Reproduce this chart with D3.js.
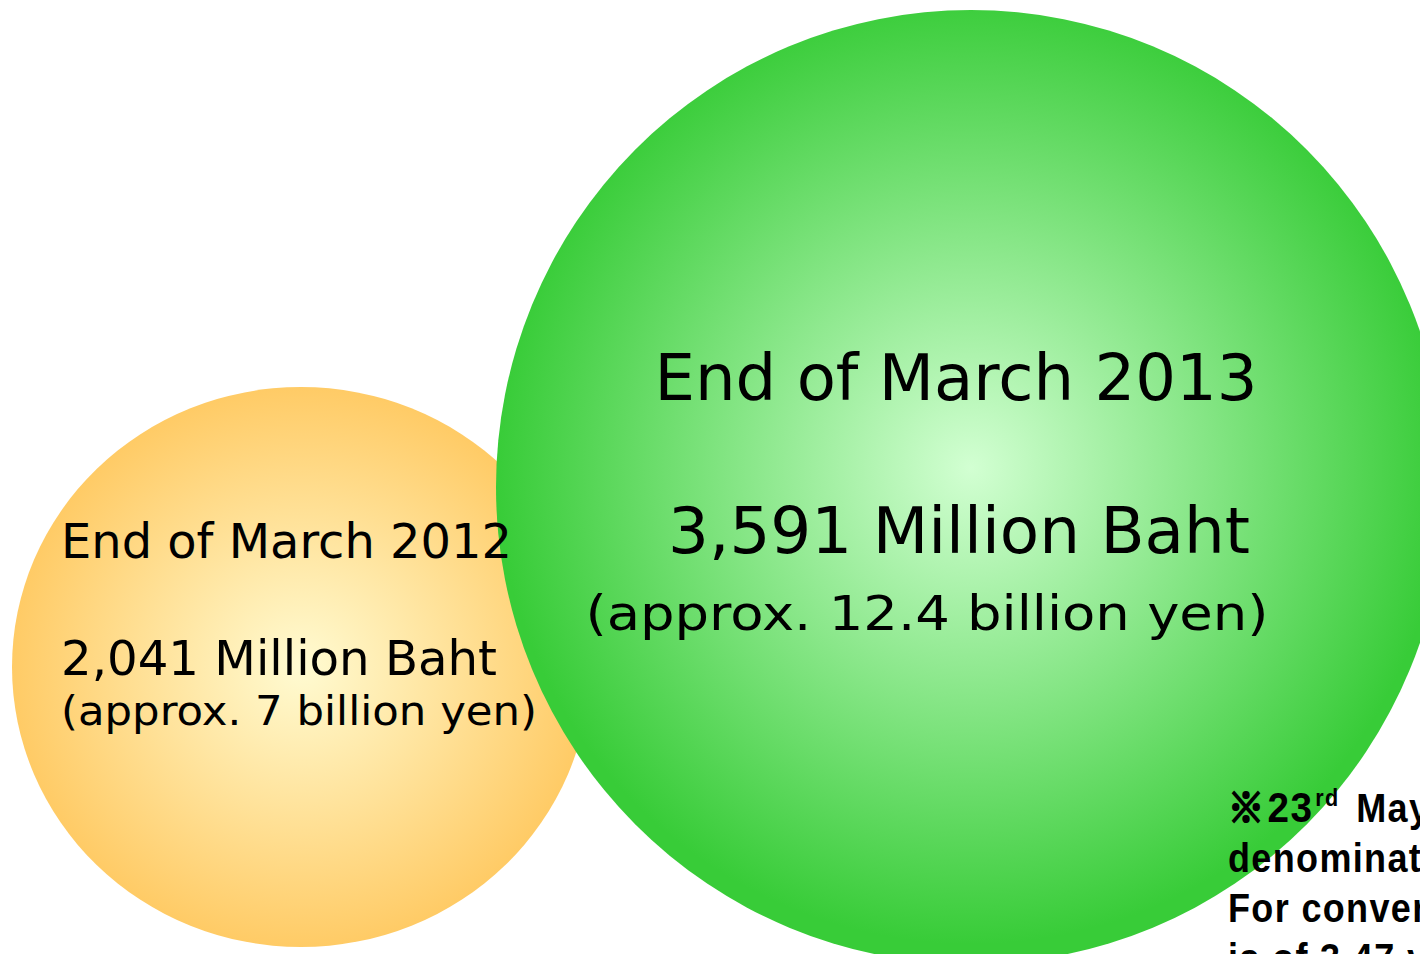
<!DOCTYPE html>
<html>
<head>
<meta charset="utf-8">
<script src="https://cdn.jsdelivr.net/npm/d3@7"></script>
<style>
  body { margin: 0; background: #fff; overflow: hidden; }
  svg { display: block; }
</style>
</head>
<body>
<script>
// data
var periods = ["End of March 2012", "End of March 2013"];
var bahtMillions = [2041, 3591];
var yenBillions = ["7", "12.4"];
var noteLines = ["※", "23", "denominated amounts.", "For conversion, the rate used", "is of 3.47 yen per Baht."];

const w = 1420, h = 954;

const svg = d3.select("body").append("svg")
    .attr("width", w)
    .attr("height", h);

// layout scales: value -> bubble centre / radii
const ext = d3.extent(bahtMillions);
const xScale = d3.scaleLinear().domain(ext).range([301, 971]);
const yScale = d3.scaleLinear().domain(ext).range([667, 487]);
const rxScale = d3.scaleLinear().domain(ext).range([289, 475]);
const ryScale = d3.scaleLinear().domain(ext).range([280, 477]);

const fmt = d3.format(",");

const grads = [
    { id: "gOrange", inner: "#fffbd2", outer: "#ffcb66", fy: "50%" },
    { id: "gGreen", inner: "#d2ffd2", outer: "#38cc38", fy: "48%" }
];

const defs = svg.append("defs");
grads.forEach(function(g) {
    var rg = defs.append("radialGradient")
        .attr("id", g.id)
        .attr("cx", "50%").attr("cy", g.fy).attr("r", "52%");
    rg.append("stop").attr("offset", "0%").attr("stop-color", g.inner);
    rg.append("stop").attr("offset", "96%").attr("stop-color", g.outer);
});

var data = periods.map((p, i) => ({ period: p, baht: bahtMillions[i], yen: yenBillions[i], i: i }));

svg.selectAll("ellipse.bubble")
    .data(data)
    .enter()
    .append("ellipse")
    .attr("class", "bubble")
    .attr("cx", d => xScale(d.baht))
    .attr("cy", d => yScale(d.baht))
    .attr("rx", d => rxScale(d.baht))
    .attr("ry", d => ryScale(d.baht))
    .attr("fill", d => "url(#" + grads[d.i].id + ")");

// text placement per bubble (offsets from centre)
const txt = [
    { lines: [
        { dx: -240, dy: -109, size: 48, len: 451, anchor: "start" },
        { dx: -240, dy: 8, size: 48, len: 436, anchor: "start" },
        { dx: -240, dy: 58, size: 40, len: 476, anchor: "start" }
    ] },
    { lines: [
        { dx: -15, dy: -87, size: 64, len: 603, anchor: "middle" },
        { dx: -12, dy: 66, size: 64, len: 582, anchor: "middle" },
        { dx: -44, dy: 143, size: 48, len: 683, anchor: "middle" }
    ] }
];

data.forEach(function(d) {
    var cx = xScale(d.baht), cy = yScale(d.baht);
    var strs = [d.period, fmt(d.baht) + " Million Baht", "(approx. " + d.yen + " billion yen)"];
    txt[d.i].lines.forEach(function(l, j) {
        svg.append("text")
            .attr("x", cx + l.dx)
            .attr("y", cy + l.dy)
            .attr("text-anchor", l.anchor)
            .attr("font-family", "'DejaVu Sans', Verdana, sans-serif")
            .attr("font-size", l.size)
            .attr("textLength", l.len)
            .attr("lengthAdjust", "spacingAndGlyphs")
            .attr("fill", "#000")
            .text(strs[j]);
    });
});

// footnote (runs off the right edge, as in the original)
const note = svg.append("g")
    .attr("transform", "translate(1228,0) scale(0.9,1)")
    .attr("font-family", "'Liberation Sans', Arial, sans-serif")
    .attr("font-weight", "bold")
    .attr("font-size", 40)
    .attr("letter-spacing", 1.5)
    .attr("fill", "#000");

var first = note.append("text").attr("x", 0).attr("y", 822);
first.append("tspan")
    .attr("font-family", "'Noto Sans CJK JP', sans-serif")
    .attr("letter-spacing", 0)
    .attr("stroke", "#000")
    .attr("stroke-width", 2.2)
    .text(noteLines[0]);
first.append("tspan").attr("dx", 4).attr("font-size", 43).text(noteLines[1]);
first.append("tspan").attr("font-size", 24).attr("dx", 2).attr("dy", -16).text("rd");
first.append("tspan").attr("dx", 6).attr("dy", 16).text(" May 2013 exchange rate, Baht-");

noteLines.slice(2).forEach(function(t, i) {
    note.append("text")
        .attr("x", 0)
        .attr("y", 872 + i * 50)
        .text(t);
});
</script>
</body>
</html>
